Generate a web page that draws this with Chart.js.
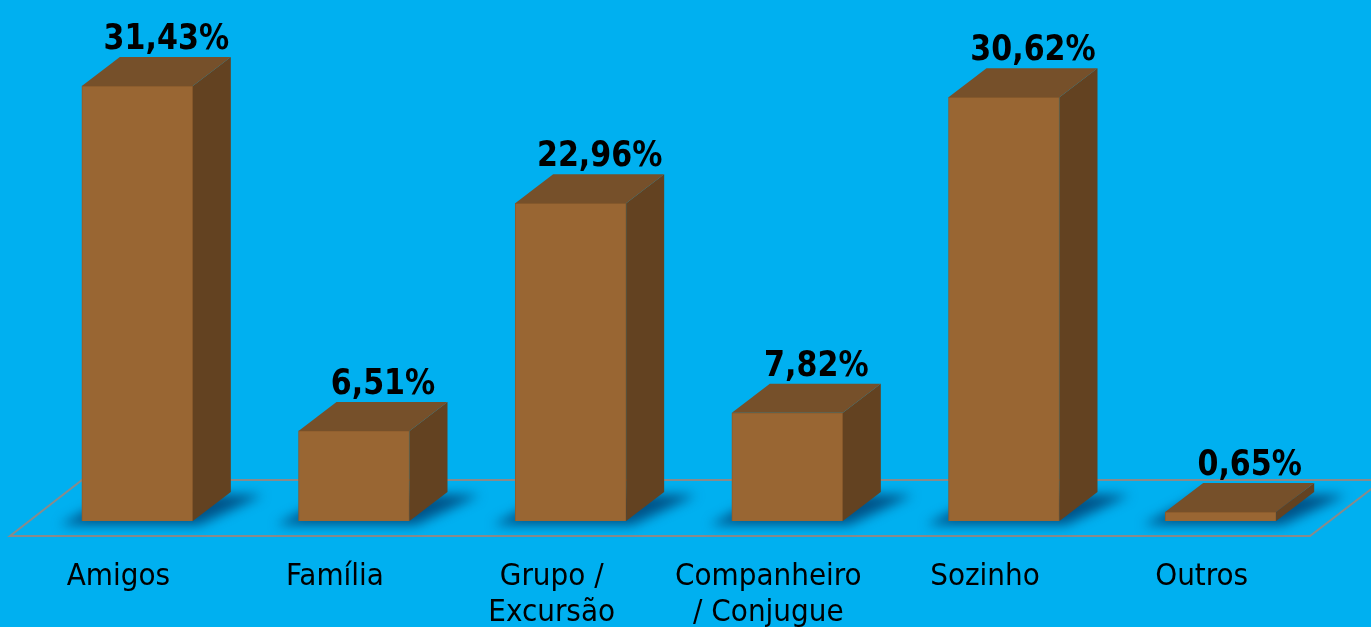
<!DOCTYPE html>
<html>
<head>
<meta charset="utf-8">
<script src="https://cdn.jsdelivr.net/npm/chart.js@4"></script>
<style>
  html, body { margin: 0; padding: 0; background: #00b0f0; }
  #wrap { width: 1371px; height: 627px; }
</style>
</head>
<body>
<div id="wrap"><canvas id="chart"></canvas></div>
<script>
const categories = ['Amigos', 'Família', ['Grupo /', 'Excursão'], ['Companheiro', '/ Conjugue'], 'Sozinho', 'Outros'];
const percentValues = [31.43, 6.51, 22.96, 7.82, 30.62, 0.65];

const fontFamily = '"DejaVu Sans Condensed", "DejaVu Sans", sans-serif';
const depthX = 38, depthY = 29;

// fake 3D: floor, shadows, top and side faces, value labels
const box3d = {
  id: 'box3d',
  beforeDatasetsDraw(chart) {
    const { ctx, chartArea } = chart;
    const base = chart.scales.y.getPixelForValue(0);
    const fl = chartArea.left - 19, fr = chartArea.right - 19, fy = base + 15;
    ctx.save();
    ctx.strokeStyle = '#8a8a8a';
    ctx.lineWidth = 2;
    ctx.beginPath();
    ctx.moveTo(fl, fy);
    ctx.lineTo(fr, fy);
    ctx.lineTo(fr + 73, fy - 56);
    ctx.lineTo(fl + 72, fy - 56);
    ctx.closePath();
    ctx.stroke();

    ctx.filter = 'blur(6px)';
    ctx.fillStyle = 'rgba(0, 60, 110, 0.8)';
    chart.getDatasetMeta(0).data.forEach(bar => {
      const l = bar.x - bar.width / 2, r = bar.x + bar.width / 2;
      ctx.beginPath();
      ctx.moveTo(l - 22, bar.base + 4);
      ctx.lineTo(r + 6, bar.base + 4);
      ctx.lineTo(r + depthX + 32, bar.base - depthY + 3);
      ctx.lineTo(l + depthX, bar.base - depthY + 1);
      ctx.closePath();
      ctx.fill();
    });
    ctx.restore();
  },
  afterDatasetsDraw(chart) {
    const { ctx } = chart;
    ctx.save();
    chart.getDatasetMeta(0).data.forEach((bar, i) => {
      const l = bar.x - bar.width / 2, r = bar.x + bar.width / 2;
      // side
      ctx.fillStyle = '#634221';
      ctx.beginPath();
      ctx.moveTo(r, bar.y);
      ctx.lineTo(r + depthX, bar.y - depthY);
      ctx.lineTo(r + depthX, bar.base - depthY);
      ctx.lineTo(r, bar.base);
      ctx.closePath();
      ctx.fill();
      // top
      ctx.fillStyle = '#76502a';
      ctx.beginPath();
      ctx.moveTo(l, bar.y);
      ctx.lineTo(l + depthX, bar.y - depthY);
      ctx.lineTo(r + depthX, bar.y - depthY);
      ctx.lineTo(r, bar.y);
      ctx.closePath();
      ctx.fill();

      const txt = percentValues[i].toFixed(2).replace('.', ',') + '%';
      ctx.save();
      ctx.translate(bar.x + 29, bar.y - depthY - 8);
      ctx.scale(0.93, 1);
      ctx.fillStyle = '#000';
      ctx.font = 'bold 36px ' + fontFamily;
      ctx.textAlign = 'center';
      ctx.textBaseline = 'alphabetic';
      ctx.fillText(txt, 0, 0);
      ctx.restore();
    });
    ctx.restore();
  }
};

new Chart(document.getElementById('chart'), {
  type: 'bar',
  data: {
    labels: categories,
    datasets: [{
      data: percentValues,
      backgroundColor: '#996633',
      borderColor: '#8a5b2d',
      borderWidth: 1,
      barThickness: 111,
    }],
  },
  options: {
    responsive: true,
    maintainAspectRatio: false,
    animation: false,
    layout: { padding: { left: 29, right: 42, top: 0, bottom: 0 } },
    scales: {
      x: {
        grid: { display: false, drawTicks: false },
        border: { display: false },
        ticks: {
          color: '#000',
          padding: 38,
          labelOffset: -19,
          maxRotation: 0,
          autoSkip: false,
          font: { family: fontFamily, size: 31, lineHeight: 1.17 },
        },
        afterFit: (s) => { s.height = 106; },
      },
      y: {
        display: false,
        min: 0,
        max: 37.65,
      },
    },
    plugins: {
      legend: { display: false },
      tooltip: { enabled: false },
    },
  },
  plugins: [box3d],
});
</script>
</body>
</html>
